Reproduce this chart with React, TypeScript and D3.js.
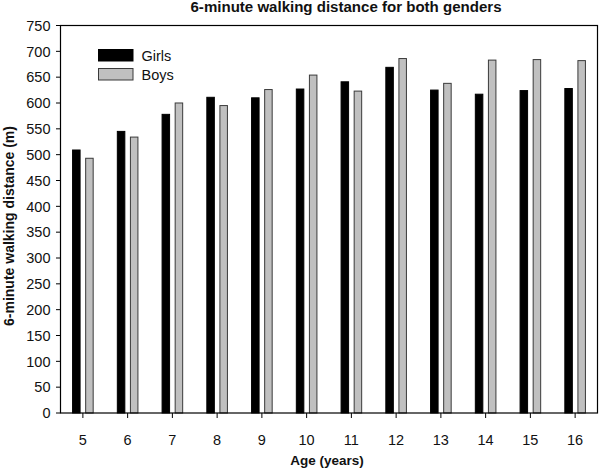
import React from "react";
import * as d3 from "d3";

const ages = ["5", "6", "7", "8", "9", "10", "11", "12", "13", "14", "15", "16"];
const girls = [510, 546, 579, 612, 611, 628, 642, 670, 626, 618, 625, 629];
const boys = [494, 535, 601, 596, 627, 655, 624, 687, 639, 684, 685, 683];
const yTicks = [0, 50, 100, 150, 200, 250, 300, 350, 400, 450, 500, 550, 600, 650, 700, 750];
const seriesNames = ["Girls", "Boys"];
const title = "6-minute walking distance for both genders";
const xTitle = "Age (years)";
const yTitle = "6-minute walking distance (m)";

const W = 600;
const H = 469;
const L = 60.5;
const R = 597.5;
const T = 25.5;
const B = 413;
const FONT = "'Liberation Sans', Arial, sans-serif";

export default function App() {
  const x = d3.scaleBand<string>().domain(ages).range([L, R]).padding(0);
  const x1 = d3.scaleBand<string>().domain(seriesNames).range([-10.8, 10.8]).paddingInner(0.35).paddingOuter(0);
  const y = d3.scaleLinear().domain([0, 750]).range([B, T]);
  const fills = ["#000000", "#c0c0c0"];
  const strokes = ["#000000", "#3a3a3a"];
  const data = [girls, boys];

  return (
    <svg width={W} height={H} style={{ position: "absolute", left: 0, top: 0, background: "#fff" }} fontFamily={FONT}>
      <rect x={0} y={0} width={W} height={H} fill="#fff" />
      <text x={346} y={12} textAnchor="middle" fontSize={14} fontWeight="bold" fill="#111" textLength={311} lengthAdjust="spacingAndGlyphs">{title}</text>
      {/* bars */}
      {ages.map((a, i) => {
        const cx = (x(a) as number) + x.bandwidth() / 2;
        return (
          <g key={a}>
            {seriesNames.map((s, k) => {
              const v = data[k][i];
              const bx = cx + (x1(s) as number);
              return (
                <rect key={s} x={bx + 0.5} y={y(v) + 0.5} width={x1.bandwidth() - 1} height={B - y(v) - 0.5}
                  fill={fills[k]} stroke={strokes[k]} strokeWidth={1} />
              );
            })}
          </g>
        );
      })}
      {/* frame */}
      <rect x={L} y={T} width={R - L} height={B - T} fill="none" stroke="#000" strokeWidth={1.2} />
      {/* y ticks */}
      {yTicks.map((t) => (
        <g key={t}>
          <line x1={L - 4.5} x2={L} y1={y(t)} y2={y(t)} stroke="#000" strokeWidth={1} />
          <text x={50.5} y={y(t)} dy="0.36em" textAnchor="end" fontSize={14.5} fill="#111">{t}</text>
        </g>
      ))}
      {/* x ticks */}
      {ages.map((a) => {
        const cx = (x(a) as number) + x.bandwidth() / 2;
        return (
          <g key={a}>
            <line x1={cx} x2={cx} y1={B} y2={B + 5} stroke="#000" strokeWidth={1} />
            <text x={cx} y={444.5} textAnchor="middle" fontSize={14.5} fill="#111">{a}</text>
          </g>
        );
      })}
      <text x={327} y={465} textAnchor="middle" fontSize={13.5} fontWeight="bold" fill="#111">{xTitle}</text>
      <text transform={`translate(14,226) rotate(-90)`} textAnchor="middle" fontSize={14} fontWeight="bold" fill="#111">{yTitle}</text>
      {/* legend */}
      {seriesNames.map((s, k) => (
        <g key={s}>
          <rect x={98.5} y={49.5 + k * 19} width={34.5} height={11.5} fill={fills[k]} stroke={strokes[k]} strokeWidth={1} />
          <text x={141.5} y={55.5 + k * 19} dy="0.36em" fontSize={14.5} fill="#111">{s}</text>
        </g>
      ))}
    </svg>
  );
}
